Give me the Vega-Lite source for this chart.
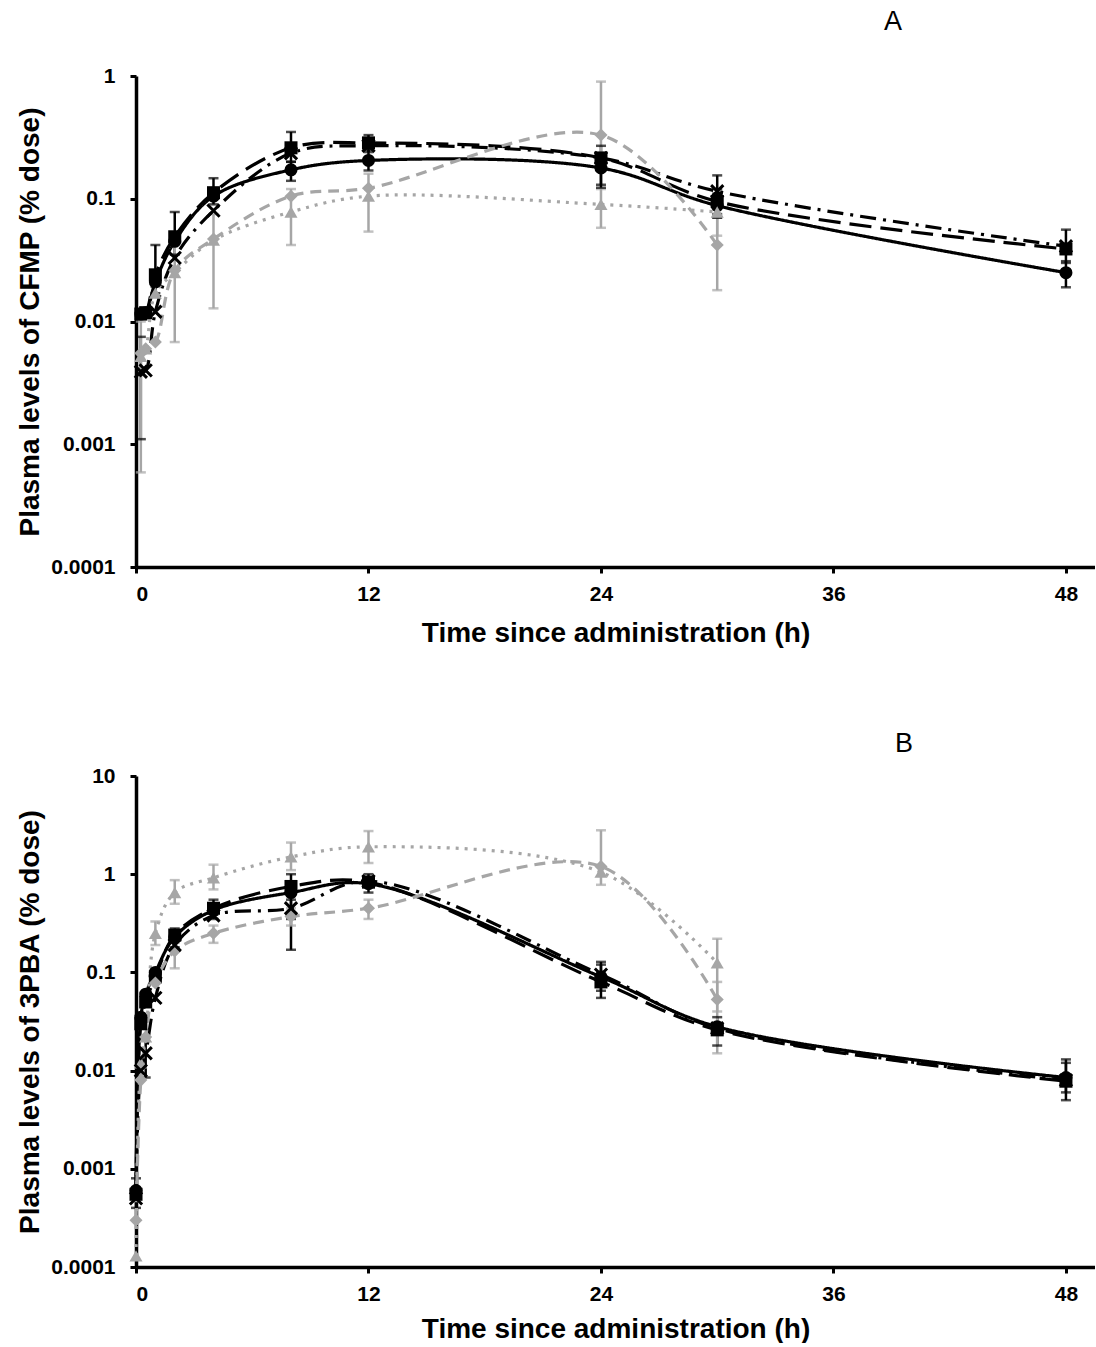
{
  "$schema": "https://vega.github.io/schema/vega-lite/v6.json",
  "padding": {"left": 16, "top": 8, "right": 0, "bottom": 0},
  "background": "white",
  "datasets": {
    "pk": [
      {"panel": "A", "series": "s1", "time": 0.25, "value": 0.0115},
      {"panel": "A", "series": "s1", "time": 0.5, "value": 0.0118},
      {"panel": "A", "series": "s1", "time": 1, "value": 0.021},
      {"panel": "A", "series": "s1", "time": 2, "value": 0.045},
      {"panel": "A", "series": "s1", "time": 4, "value": 0.105},
      {"panel": "A", "series": "s1", "time": 8, "value": 0.172, "lo": 0.14, "hi": 0.2},
      {"panel": "A", "series": "s1", "time": 12, "value": 0.205, "lo": 0.17, "hi": 0.25},
      {"panel": "A", "series": "s1", "time": 24, "value": 0.178, "lo": 0.13, "hi": 0.22},
      {"panel": "A", "series": "s1", "time": 30, "value": 0.088, "lo": 0.07, "hi": 0.11},
      {"panel": "A", "series": "s1", "time": 48, "value": 0.025, "lo": 0.019, "hi": 0.031},

      {"panel": "A", "series": "s2", "time": 0.25, "value": 0.0115},
      {"panel": "A", "series": "s2", "time": 0.5, "value": 0.0118},
      {"panel": "A", "series": "s2", "time": 1, "value": 0.024, "lo": 0.017, "hi": 0.042},
      {"panel": "A", "series": "s2", "time": 2, "value": 0.049, "lo": 0.035, "hi": 0.078},
      {"panel": "A", "series": "s2", "time": 4, "value": 0.112, "lo": 0.09, "hi": 0.147},
      {"panel": "A", "series": "s2", "time": 8, "value": 0.26, "lo": 0.2, "hi": 0.35},
      {"panel": "A", "series": "s2", "time": 12, "value": 0.285, "lo": 0.24, "hi": 0.33},
      {"panel": "A", "series": "s2", "time": 24, "value": 0.215, "lo": 0.123, "hi": 0.27},
      {"panel": "A", "series": "s2", "time": 30, "value": 0.095, "lo": 0.075, "hi": 0.12},
      {"panel": "A", "series": "s2", "time": 48, "value": 0.039, "lo": 0.03, "hi": 0.056},

      {"panel": "A", "series": "s3", "time": 0.25, "value": 0.0039, "lo": 0.0011, "hi": 0.0075},
      {"panel": "A", "series": "s3", "time": 0.5, "value": 0.004},
      {"panel": "A", "series": "s3", "time": 1, "value": 0.012},
      {"panel": "A", "series": "s3", "time": 2, "value": 0.033},
      {"panel": "A", "series": "s3", "time": 4, "value": 0.08},
      {"panel": "A", "series": "s3", "time": 8, "value": 0.235},
      {"panel": "A", "series": "s3", "time": 12, "value": 0.27},
      {"panel": "A", "series": "s3", "time": 24, "value": 0.215},
      {"panel": "A", "series": "s3", "time": 30, "value": 0.115, "lo": 0.09, "hi": 0.155},
      {"panel": "A", "series": "s3", "time": 48, "value": 0.041},

      {"panel": "A", "series": "s4", "time": 0.25, "value": 0.0055},
      {"panel": "A", "series": "s4", "time": 0.5, "value": 0.006},
      {"panel": "A", "series": "s4", "time": 1, "value": 0.0068},
      {"panel": "A", "series": "s4", "time": 2, "value": 0.026},
      {"panel": "A", "series": "s4", "time": 4, "value": 0.047},
      {"panel": "A", "series": "s4", "time": 8, "value": 0.105},
      {"panel": "A", "series": "s4", "time": 12, "value": 0.122},
      {"panel": "A", "series": "s4", "time": 24, "value": 0.33, "lo": 0.2, "hi": 0.9},
      {"panel": "A", "series": "s4", "time": 30, "value": 0.042, "lo": 0.018, "hi": 0.07},

      {"panel": "A", "series": "s5", "time": 0.25, "value": 0.0052, "lo": 0.00059, "hi": 0.01},
      {"panel": "A", "series": "s5", "time": 0.5, "value": 0.006},
      {"panel": "A", "series": "s5", "time": 1, "value": 0.017},
      {"panel": "A", "series": "s5", "time": 2, "value": 0.025, "lo": 0.0068, "hi": 0.045},
      {"panel": "A", "series": "s5", "time": 4, "value": 0.046, "lo": 0.0128, "hi": 0.075},
      {"panel": "A", "series": "s5", "time": 8, "value": 0.078, "lo": 0.042, "hi": 0.12},
      {"panel": "A", "series": "s5", "time": 12, "value": 0.105, "lo": 0.054, "hi": 0.16},
      {"panel": "A", "series": "s5", "time": 24, "value": 0.09, "lo": 0.058, "hi": 0.12},
      {"panel": "A", "series": "s5", "time": 30, "value": 0.078, "lo": 0.05, "hi": 0.1},

      {"panel": "B", "series": "s1", "time": 0, "value": 0.0006, "lo": 0.0004, "hi": 0.0008},
      {"panel": "B", "series": "s1", "time": 0.25, "value": 0.035},
      {"panel": "B", "series": "s1", "time": 0.5, "value": 0.06},
      {"panel": "B", "series": "s1", "time": 1, "value": 0.1},
      {"panel": "B", "series": "s1", "time": 2, "value": 0.23},
      {"panel": "B", "series": "s1", "time": 4, "value": 0.43},
      {"panel": "B", "series": "s1", "time": 8, "value": 0.65},
      {"panel": "B", "series": "s1", "time": 12, "value": 0.8},
      {"panel": "B", "series": "s1", "time": 24, "value": 0.09, "lo": 0.065, "hi": 0.12},
      {"panel": "B", "series": "s1", "time": 30, "value": 0.028},
      {"panel": "B", "series": "s1", "time": 48, "value": 0.0085, "lo": 0.006, "hi": 0.013},

      {"panel": "B", "series": "s2", "time": 0, "value": 0.00055},
      {"panel": "B", "series": "s2", "time": 0.25, "value": 0.03},
      {"panel": "B", "series": "s2", "time": 0.5, "value": 0.05},
      {"panel": "B", "series": "s2", "time": 1, "value": 0.09},
      {"panel": "B", "series": "s2", "time": 2, "value": 0.24, "lo": 0.18, "hi": 0.28},
      {"panel": "B", "series": "s2", "time": 4, "value": 0.45, "lo": 0.35, "hi": 0.55},
      {"panel": "B", "series": "s2", "time": 8, "value": 0.75, "lo": 0.17, "hi": 1.0},
      {"panel": "B", "series": "s2", "time": 12, "value": 0.83, "lo": 0.65, "hi": 1.0},
      {"panel": "B", "series": "s2", "time": 24, "value": 0.08, "lo": 0.055, "hi": 0.128},
      {"panel": "B", "series": "s2", "time": 30, "value": 0.026},
      {"panel": "B", "series": "s2", "time": 48, "value": 0.0078, "lo": 0.005, "hi": 0.012},

      {"panel": "B", "series": "s3", "time": 0, "value": 0.0005},
      {"panel": "B", "series": "s3", "time": 0.25, "value": 0.01},
      {"panel": "B", "series": "s3", "time": 0.5, "value": 0.015, "lo": 0.0085, "hi": 0.022},
      {"panel": "B", "series": "s3", "time": 1, "value": 0.055},
      {"panel": "B", "series": "s3", "time": 2, "value": 0.19},
      {"panel": "B", "series": "s3", "time": 4, "value": 0.38},
      {"panel": "B", "series": "s3", "time": 8, "value": 0.45, "lo": 0.35, "hi": 0.55},
      {"panel": "B", "series": "s3", "time": 12, "value": 0.85},
      {"panel": "B", "series": "s3", "time": 24, "value": 0.095},
      {"panel": "B", "series": "s3", "time": 30, "value": 0.027, "lo": 0.018, "hi": 0.035},
      {"panel": "B", "series": "s3", "time": 48, "value": 0.008},

      {"panel": "B", "series": "s4", "time": 0, "value": 0.0003},
      {"panel": "B", "series": "s4", "time": 0.25, "value": 0.008},
      {"panel": "B", "series": "s4", "time": 0.5, "value": 0.022},
      {"panel": "B", "series": "s4", "time": 1, "value": 0.078},
      {"panel": "B", "series": "s4", "time": 2, "value": 0.165, "lo": 0.11, "hi": 0.2},
      {"panel": "B", "series": "s4", "time": 4, "value": 0.25, "lo": 0.2, "hi": 0.3},
      {"panel": "B", "series": "s4", "time": 8, "value": 0.37, "lo": 0.3, "hi": 0.45},
      {"panel": "B", "series": "s4", "time": 12, "value": 0.45, "lo": 0.35, "hi": 0.55},
      {"panel": "B", "series": "s4", "time": 24, "value": 1.2},
      {"panel": "B", "series": "s4", "time": 30, "value": 0.053, "lo": 0.015, "hi": 0.08},

      {"panel": "B", "series": "s5", "time": 0, "value": 0.00013},
      {"panel": "B", "series": "s5", "time": 0.25, "value": 0.012},
      {"panel": "B", "series": "s5", "time": 0.5, "value": 0.022},
      {"panel": "B", "series": "s5", "time": 1, "value": 0.25, "lo": 0.19, "hi": 0.33},
      {"panel": "B", "series": "s5", "time": 2, "value": 0.65, "lo": 0.5, "hi": 0.87},
      {"panel": "B", "series": "s5", "time": 4, "value": 0.92, "lo": 0.7, "hi": 1.25},
      {"panel": "B", "series": "s5", "time": 8, "value": 1.5, "lo": 1.1, "hi": 2.1},
      {"panel": "B", "series": "s5", "time": 12, "value": 1.9, "lo": 1.3, "hi": 2.75},
      {"panel": "B", "series": "s5", "time": 24, "value": 1.05, "lo": 0.78, "hi": 2.8},
      {"panel": "B", "series": "s5", "time": 30, "value": 0.125, "lo": 0.04, "hi": 0.22}
    ]
  },
  "spacing": 83,
  "vconcat": [
    {
      "width": 959,
      "height": 491,
      "title": {"text": "A", "anchor": "start", "frame": "group", "dx": 748, "offset": 29, "font": "Liberation Sans", "fontSize": 27, "fontWeight": "normal", "color": "black"},
      "data": {"name": "pk"},
      "transform": [{"filter": "datum.panel === 'A'"}],
      "encoding": {
        "x": {"field": "time", "type": "quantitative", "scale": {"domain": [0, 49.5], "nice": false}, "axis": {"values": [0, 12, 24, 36, 48], "title": "Time since administration (h)"}},
        "color": {"field": "series", "type": "nominal", "legend": null, "scale": {"domain": ["s1", "s2", "s3", "s4", "s5"], "range": ["#000000", "#000000", "#000000", "#a6a6a6", "#a6a6a6"]}}
      },
      "layer": [
        {
          "transform": [{"filter": "isValid(datum.lo)"}],
          "mark": {"type": "rule", "strokeWidth": 2.5},
          "encoding": {
            "y": {"field": "lo", "type": "quantitative", "scale": {"type": "log", "domain": [0.0001, 1], "nice": false}},
            "y2": {"field": "hi"}
          }
        },
        {
          "transform": [{"filter": "isValid(datum.hi)"}],
          "mark": {"type": "tick", "orient": "horizontal", "size": 10, "thickness": 2.5},
          "encoding": {"y": {"field": "hi", "type": "quantitative"}}
        },
        {
          "transform": [{"filter": "isValid(datum.lo)"}],
          "mark": {"type": "tick", "orient": "horizontal", "size": 10, "thickness": 2.5},
          "encoding": {"y": {"field": "lo", "type": "quantitative"}}
        },
        {
          "mark": {"type": "line", "interpolate": "catmull-rom", "strokeWidth": 3.2},
          "encoding": {
            "y": {"field": "value", "type": "quantitative", "axis": {"values": [0.0001, 0.001, 0.01, 0.1, 1], "format": "~g", "title": "Plasma levels of CFMP (% dose)"}},
            "strokeDash": {"field": "series", "type": "nominal", "legend": null, "scale": {"domain": ["s1", "s2", "s3", "s4", "s5"], "range": [[1, 0], [22, 9], [16, 7, 3, 7], [11, 7], [3, 6]]}}
          }
        },
        {
          "transform": [{"filter": "datum.series !== 's3'"}],
          "mark": {"type": "point", "filled": true, "size": 170, "opacity": 1},
          "encoding": {
            "y": {"field": "value", "type": "quantitative"},
            "shape": {"field": "series", "type": "nominal", "legend": null, "scale": {"domain": ["s1", "s2", "s4", "s5"], "range": ["circle", "square", "diamond", "triangle-up"]}}
          }
        },
        {
          "transform": [{"filter": "datum.series === 's3'"}],
          "mark": {"type": "point", "filled": false, "size": 150, "strokeWidth": 3, "opacity": 1, "shape": "M-1,-1L1,1M1,-1L-1,1"},
          "encoding": {"y": {"field": "value", "type": "quantitative"}}
        }
      ]
    },
    {
      "width": 959,
      "height": 491,
      "title": {"text": "B", "anchor": "start", "frame": "group", "dx": 759, "offset": 7, "font": "Liberation Sans", "fontSize": 27, "fontWeight": "normal", "color": "black"},
      "data": {"name": "pk"},
      "transform": [{"filter": "datum.panel === 'B'"}],
      "encoding": {
        "x": {"field": "time", "type": "quantitative", "scale": {"domain": [0, 49.5], "nice": false}, "axis": {"values": [0, 12, 24, 36, 48], "title": "Time since administration (h)", "titlePadding": 11}},
        "color": {"field": "series", "type": "nominal", "legend": null, "scale": {"domain": ["s1", "s2", "s3", "s4", "s5"], "range": ["#000000", "#000000", "#000000", "#a6a6a6", "#a6a6a6"]}}
      },
      "layer": [
        {
          "transform": [{"filter": "isValid(datum.lo)"}],
          "mark": {"type": "rule", "strokeWidth": 2.5},
          "encoding": {
            "y": {"field": "lo", "type": "quantitative", "scale": {"type": "log", "domain": [0.0001, 10], "nice": false}},
            "y2": {"field": "hi"}
          }
        },
        {
          "transform": [{"filter": "isValid(datum.hi)"}],
          "mark": {"type": "tick", "orient": "horizontal", "size": 10, "thickness": 2.5},
          "encoding": {"y": {"field": "hi", "type": "quantitative"}}
        },
        {
          "transform": [{"filter": "isValid(datum.lo)"}],
          "mark": {"type": "tick", "orient": "horizontal", "size": 10, "thickness": 2.5},
          "encoding": {"y": {"field": "lo", "type": "quantitative"}}
        },
        {
          "mark": {"type": "line", "interpolate": "catmull-rom", "strokeWidth": 3.2},
          "encoding": {
            "y": {"field": "value", "type": "quantitative", "axis": {"values": [0.0001, 0.001, 0.01, 0.1, 1, 10], "format": "~g", "title": "Plasma levels of 3PBA (% dose)"}},
            "strokeDash": {"field": "series", "type": "nominal", "legend": null, "scale": {"domain": ["s1", "s2", "s3", "s4", "s5"], "range": [[1, 0], [22, 9], [16, 7, 3, 7], [11, 7], [3, 6]]}}
          }
        },
        {
          "transform": [{"filter": "datum.series !== 's3'"}],
          "mark": {"type": "point", "filled": true, "size": 170, "opacity": 1},
          "encoding": {
            "y": {"field": "value", "type": "quantitative"},
            "shape": {"field": "series", "type": "nominal", "legend": null, "scale": {"domain": ["s1", "s2", "s4", "s5"], "range": ["circle", "square", "diamond", "triangle-up"]}}
          }
        },
        {
          "transform": [{"filter": "datum.series === 's3'"}],
          "mark": {"type": "point", "filled": false, "size": 150, "strokeWidth": 3, "opacity": 1, "shape": "M-1,-1L1,1M1,-1L-1,1"},
          "encoding": {"y": {"field": "value", "type": "quantitative"}}
        }
      ]
    }
  ],
  "config": {
    "view": {"stroke": null},
    "font": "Liberation Sans",
    "axis": {
      "grid": false,
      "domainColor": "black",
      "domainWidth": 3.5,
      "tickColor": "black",
      "tickWidth": 3,
      "tickSize": 6,
      "labelFont": "Liberation Sans",
      "labelFontWeight": "bold",
      "labelFontSize": 21,
      "labelColor": "black",
      "titleFont": "Liberation Sans",
      "titleFontWeight": "bold",
      "titleFontSize": 28,
      "titleColor": "black"
    },
    "axisX": {"labelPadding": 10, "titlePadding": 15},
    "axisY": {"labelPadding": 15, "titlePadding": 6}
  }
}
